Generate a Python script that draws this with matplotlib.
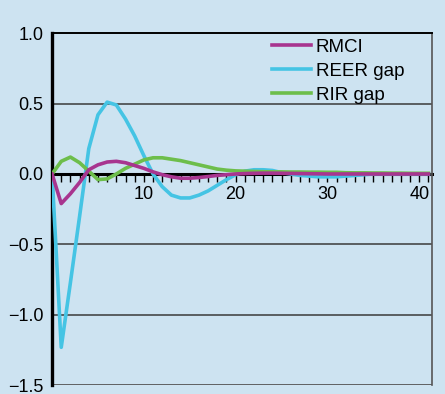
import numpy as np
import matplotlib.pyplot as plt
from matplotlib.ticker import FixedLocator

plt.rcParams['font.family'] = ['Liberation Sans', 'DejaVu Sans']

# Impulse responses over 41 periods
periods = list(range(0, 42))

rmci = [0.0, -0.21, -0.14, -0.06, 0.03, 0.065, 0.085, 0.09, 0.08, 0.06,
        0.04, 0.015, -0.005, -0.02, -0.03, -0.03, -0.025, -0.018, -0.01, -0.005,
        0.0, 0.003, 0.005, 0.006, 0.006, 0.005, 0.004, 0.003, 0.002, 0.001,
        0.0, 0.0, 0.0, 0.0, 0.0, 0.0, 0.0, 0.0, 0.0, 0.0,
        0.0, 0.0]

reer_gap = [0.0, -1.23, -0.77, -0.3, 0.18, 0.42, 0.51, 0.49, 0.39, 0.27,
            0.13, 0.0, -0.09, -0.15, -0.17, -0.17, -0.15, -0.12, -0.08, -0.04,
            -0.005, 0.02, 0.03, 0.03, 0.025, 0.01, 0.0, -0.01, -0.015, -0.02,
            -0.02, -0.02, -0.015, -0.01, -0.005, 0.0, 0.0, 0.0, 0.0, 0.0,
            0.0, 0.0]

rir_gap = [0.0, 0.09, 0.12, 0.08, 0.02, -0.04, -0.035, 0.0, 0.04, 0.07,
           0.1, 0.115, 0.115, 0.105, 0.095, 0.08, 0.065, 0.05, 0.035, 0.027,
           0.022, 0.02, 0.018, 0.016, 0.015, 0.015, 0.014, 0.014, 0.013, 0.013,
           0.012, 0.012, 0.009, 0.008, 0.008, 0.007, 0.007, 0.006, 0.006, 0.005,
           0.005, 0.005]

y_ticks = [1.0, 0.5, 0.0, -0.5, -1.0, -1.5]
x_labels = [10, 20, 30, 40]

bg = '#cde3f1'
fig = plt.figure(figsize=(4.45, 3.94), dpi=100, facecolor=bg)
ax = fig.add_axes([0.117, 0.022, 0.854, 0.894])
ax.set_facecolor(bg)

l_reer, = ax.plot(periods, reer_gap, color='#45c4e4', lw=2.6, label='REER gap', zorder=3)
l_rir, = ax.plot(periods, rir_gap, color='#6dbe4b', lw=2.6, label='RIR gap', zorder=4)
l_rmci, = ax.plot(periods, rmci, color='#a8358f', lw=2.6, label='RMCI', zorder=5)

ax.set_xlim(0, 41.4)
ax.set_ylim(-1.5, 1.0)

# horizontal rules
for y in [0.5, -0.5, -1.0]:
    ax.axhline(y, color='#3a3a3a', lw=1.1, zorder=1)
ax.axhline(-1.5, color='#555555', lw=2, zorder=2)

ax.set_yticks(y_ticks)
ax.set_yticklabels(['1.0', '0.5', '0.0', '\u22120.5', '\u22121.0', '\u22121.5'], fontsize=13)
ax.tick_params(axis='y', length=0, pad=6)

# x axis sits on zero with downward ticks
ax.spines['bottom'].set_position(('data', 0))
ax.spines['bottom'].set_linewidth(2.2)
ax.spines['bottom'].set_zorder(2)
ax.spines['left'].set_linewidth(2.4)
ax.spines['top'].set_linewidth(1.4)
ax.spines['right'].set_linewidth(1.2)
ax.spines['right'].set_color('#555555')

ax.xaxis.set_major_locator(FixedLocator(x_labels))
ax.xaxis.set_minor_locator(FixedLocator(list(range(1, 42))))
ax.set_xticklabels([str(v) for v in x_labels], fontsize=13)
ax.tick_params(axis='x', which='both', direction='out', length=6, width=1.0, color='black', pad=3)

ax.legend(handles=[l_rmci, l_reer, l_rir], loc='upper left', frameon=False,
          fontsize=13.5, handlelength=2.1, handletextpad=0.25, labelspacing=0.36,
          borderpad=0, borderaxespad=0, bbox_to_anchor=(0.578, 0.984))

fig.savefig('out.png', dpi=100, facecolor=bg)
